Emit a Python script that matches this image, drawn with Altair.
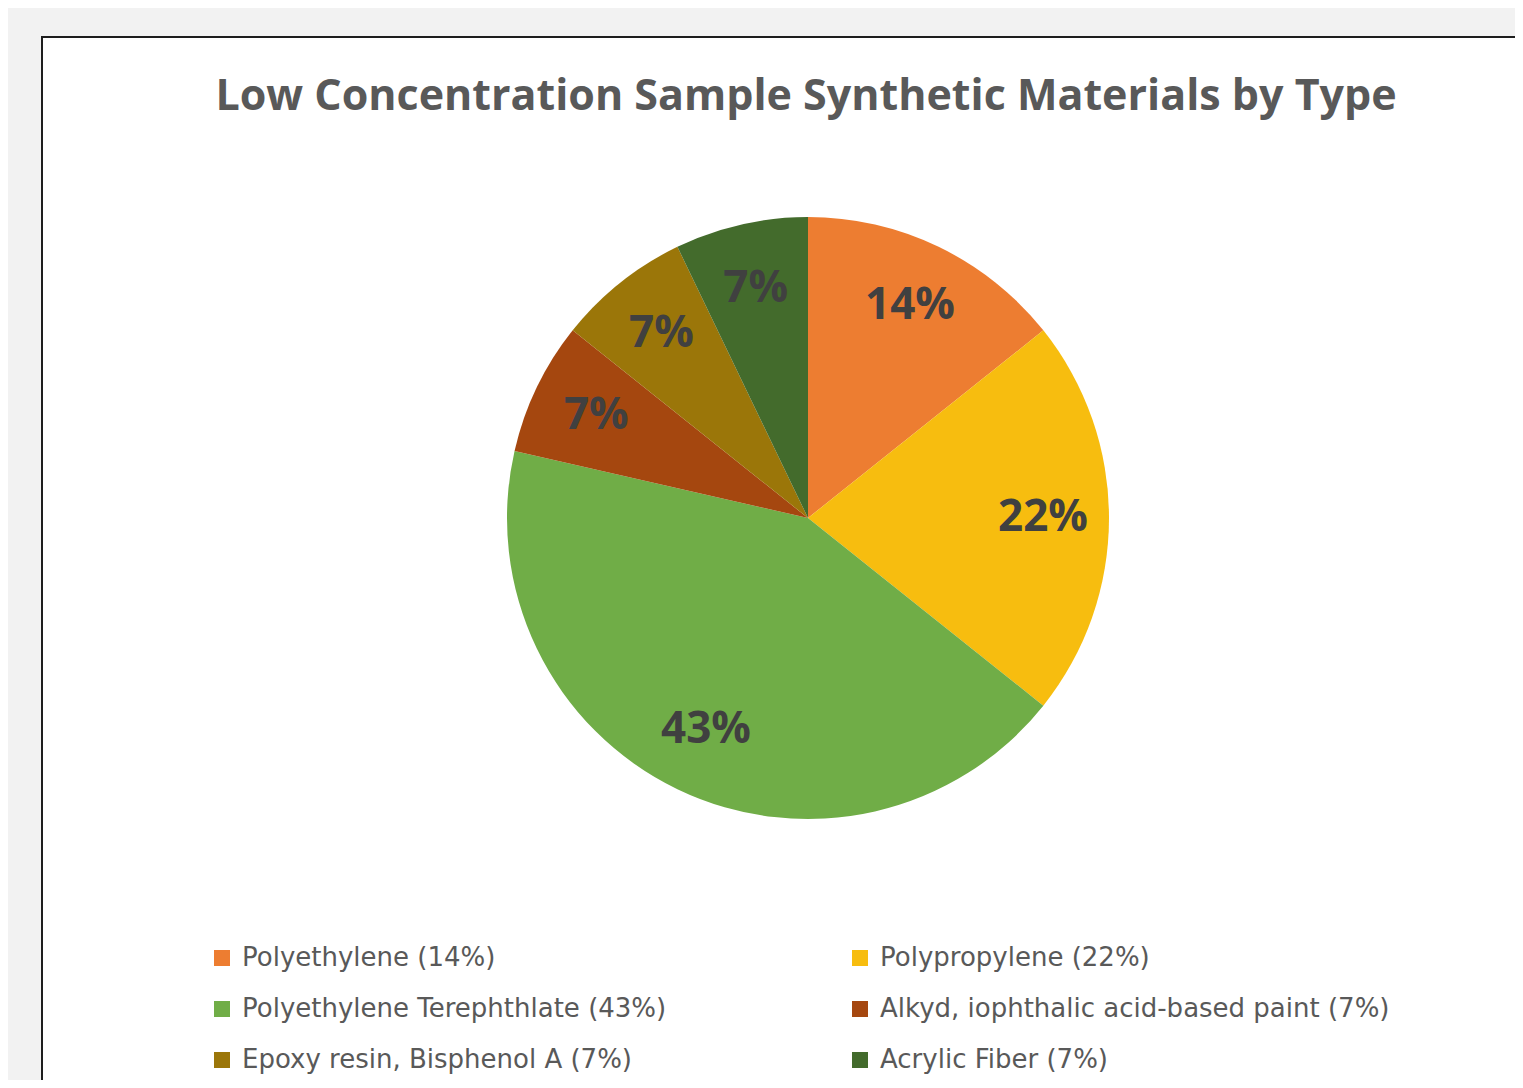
import altair as alt
import pandas as pd

# ---- data ----
materials = [
    "Polyethylene",
    "Polypropylene",
    "Polyethylene Terephthlate",
    "Alkyd, iophthalic acid-based paint",
    "Epoxy resin, Bisphenol A",
    "Acrylic Fiber",
]
counts = [2, 3, 6, 1, 1, 1]
pct_labels = ["14%", "22%", "43%", "7%", "7%", "7%"]
colors = ["#ED7D31", "#F7BD0F", "#70AD47", "#A5470F", "#9B7609", "#436B2C"]
title_text = "Low Concentration Sample Synthetic Materials by Type"

legend_labels = [f"{m} ({p})" for m, p in zip(materials, pct_labels)]

df = pd.DataFrame({
    "idx": list(range(len(materials))),
    "material": materials,
    "count": counts,
    "pct": pct_labels,
    "legend": legend_labels,
})

W, H = 1507, 1072
CX, CY = 800, 510
R = 301

dummy = pd.DataFrame({"a": [0]})

frame = alt.Chart(dummy).mark_rect(
    fill="white", stroke="#1e1e1e", strokeWidth=2
).encode(
    x=alt.value(34), x2=alt.value(1700),
    y=alt.value(29), y2=alt.value(1300),
)

title = alt.Chart(dummy).mark_text(
    text=title_text, font="Open Sans", fontSize=43, fontWeight="bold",
    color="#595959", align="center", baseline="middle",
).encode(x=alt.value(798), y=alt.value(89))

color = alt.Color(
    "legend:N",
    scale=alt.Scale(domain=legend_labels, range=colors),
    sort=legend_labels,
    legend=alt.Legend(
        title=None,
        orient="none",
        legendX=201,
        legendY=937,
        columns=2,
        direction="horizontal",
        symbolType="square",
        symbolSize=256,
        symbolStrokeWidth=0,
        labelFont="DejaVu Sans",
        labelFontSize=26,
        labelColor="#595959",
        labelOffset=7,
        labelLimit=700,
        rowPadding=25,
        columnPadding=180,
        padding=0,
    ),
)

base = alt.Chart(df).encode(
    theta=alt.Theta("count:Q", stack=True),
    order=alt.Order("idx:Q"),
)

pie = base.mark_arc(radius=R).encode(
    color=color,
    x=alt.value(CX), y=alt.value(CY),
)

labels = base.mark_text(
    radius=235, font="Open Sans", fontSize=44, fontWeight="bold",
    color="#404040", align="center", baseline="middle",
).encode(
    text="pct:N",
    x=alt.value(CX), y=alt.value(CY),
)

chart = alt.layer(frame, title, pie, labels).properties(
    width=W, height=H,
    autosize=alt.AutoSizeParams(type="none"),
    padding=0,
    background="#f2f2f2",
).configure_view(stroke=None)

chart.save("out.html", embed_options={"renderer": "svg", "actions": False})
